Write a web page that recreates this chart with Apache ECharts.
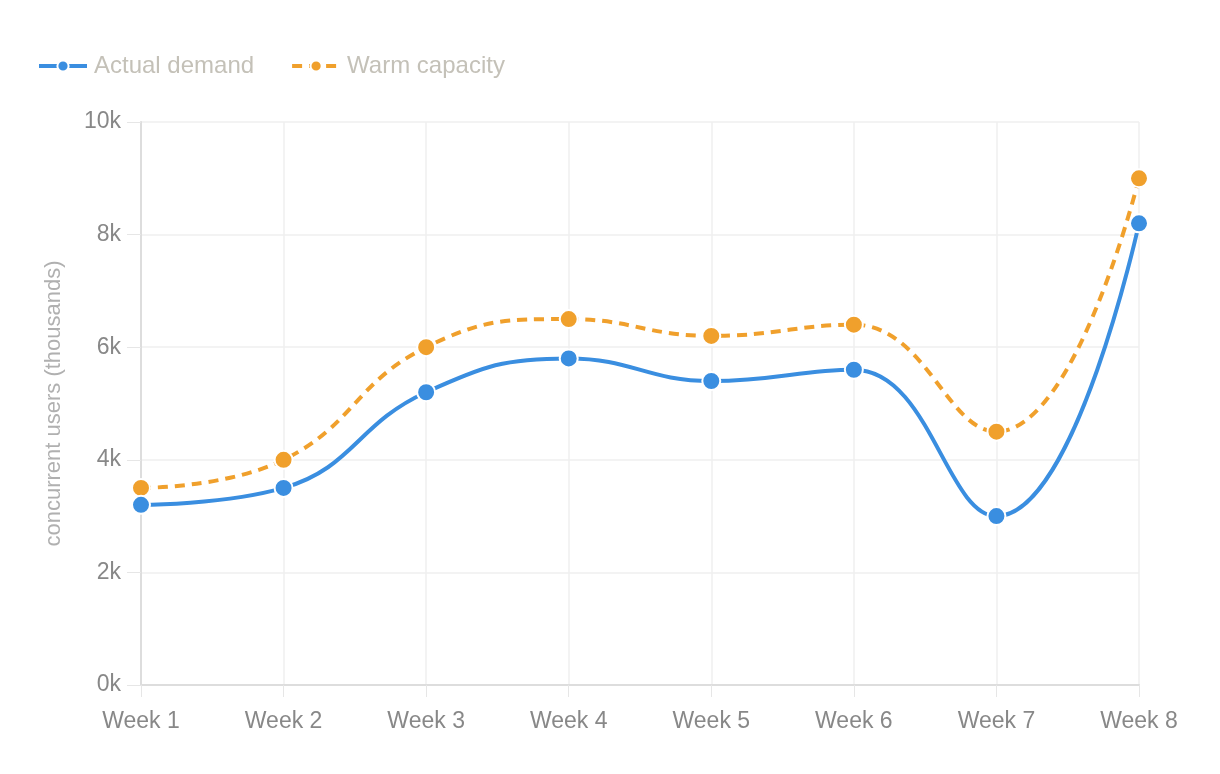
<!DOCTYPE html>
<html>
<head>
<meta charset="utf-8">
<script src="https://cdn.jsdelivr.net/npm/echarts@6/dist/echarts.min.js"></script>
<style>
  html, body { margin: 0; padding: 0; background: #fff; }
  #chart { width: 1220px; height: 774px; }
</style>
</head>
<body>
<div id="chart"></div>
<script>
var weeks = ['Week 1', 'Week 2', 'Week 3', 'Week 4', 'Week 5', 'Week 6', 'Week 7', 'Week 8'];
var actualDemand = [3200, 3500, 5200, 5800, 5400, 5600, 3000, 8200];
var warmCapacity = [3500, 4000, 6000, 6500, 6200, 6400, 4500, 9000];

var font = 'Helvetica, Arial, "Liberation Sans", sans-serif';
var myChart = echarts.init(document.getElementById('chart'));

var option = {
    animation: false,
    textStyle: { fontFamily: font },
    legend: {
        left: 32,
        top: 49,
        itemWidth: 48,
        itemHeight: 14,
        itemGap: 36,
        lineStyle: { width: 4 },
        textStyle: { color: '#c4c1b8', fontSize: 24, fontFamily: font, padding: [0, 0, 0, 2] },
        data: ['Actual demand', 'Warm capacity']
    },
    grid: {
        left: 141,
        right: 81,
        top: 122,
        bottom: 89
    },
    xAxis: {
        type: 'category',
        boundaryGap: false,
        data: weeks,
        axisLine: { lineStyle: { color: '#dddddd', width: 2 } },
        axisTick: { show: true, alignWithLabel: true, length: 12, lineStyle: { color: '#e6e6e6' } },
        axisLabel: { color: '#888888', fontSize: 23, margin: 25, fontFamily: font },
        splitLine: { show: true, lineStyle: { color: '#efefef', width: 1.5 } }
    },
    yAxis: {
        type: 'value',
        min: 0,
        max: 10000,
        interval: 2000,
        name: 'concurrent users (thousands)',
        nameLocation: 'middle',
        nameGap: 76,
        nameTextStyle: { color: '#b0b0b0', fontSize: 22, fontFamily: font },
        axisLine: { show: true, lineStyle: { color: '#dddddd', width: 2 } },
        axisTick: { show: true, length: 14, lineStyle: { color: '#e6e6e6' } },
        axisLabel: {
            color: '#888888',
            fontSize: 23,
            margin: 20,
            fontFamily: font,
            formatter: function (v) { return (v / 1000) + 'k'; }
        },
        splitLine: { show: true, lineStyle: { color: '#efefef', width: 1.5 } }
    },
    series: [
        {
            name: 'Actual demand',
            type: 'line',
            data: actualDemand,
            smooth: 0.45,
            symbol: 'circle',
            symbolSize: 18,
            z: 3,
            lineStyle: { color: '#3a8ee0', width: 4 },
            itemStyle: { color: '#3a8ee0', borderColor: '#ffffff', borderWidth: 2 }
        },
        {
            name: 'Warm capacity',
            type: 'line',
            data: warmCapacity,
            smooth: 0.45,
            symbol: 'circle',
            symbolSize: 18,
            z: 2,
            lineStyle: { color: '#f0a02c', width: 4, type: [10, 7] },
            itemStyle: { color: '#f0a02c', borderColor: '#ffffff', borderWidth: 2 }
        }
    ]
};
myChart.setOption(option);
</script>
</body>
</html>
